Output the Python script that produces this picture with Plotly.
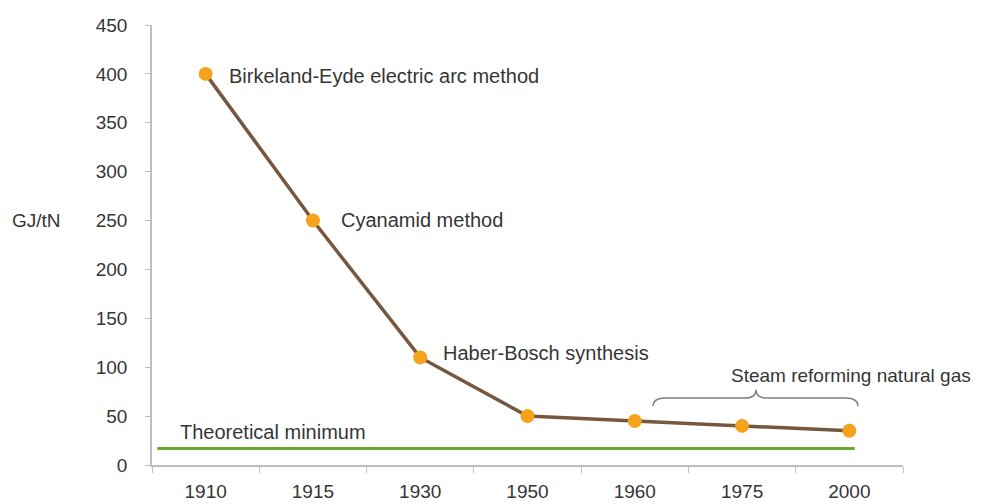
import plotly.graph_objects as go

years = ["1910", "1915", "1930", "1950", "1960", "1975", "2000"]
energy = [400, 250, 110, 50, 45, 40, 35]
theoretical_min = 17
y_ticks = [0, 50, 100, 150, 200, 250, 300, 350, 400, 450]

FONT = "Liberation Sans, Arial, sans-serif"
TXT = "#363636"

fig = go.Figure()
fig.add_trace(go.Scatter(
    x=years, y=energy, mode="lines+markers",
    line=dict(color="#76573f", width=3.5),
    marker=dict(color="#f5a21c", size=14, line=dict(width=0)),
    showlegend=False, hoverinfo="x+y",
))

# theoretical minimum line
fig.add_shape(type="line", xref="x", yref="y", x0=-0.45, x1=6.05,
              y0=theoretical_min, y1=theoretical_min,
              line=dict(color="#6aaa2e", width=3), layer="below")

# brace over steam reforming
bx0, bx1, bm = 4.17, 6.08, 5.13
yb, yf, yp = 60, 68.5, 77
path = (f"M {bx0},{yb} Q {bx0},{yf} {bx0+0.12},{yf} L {bm-0.1},{yf} "
        f"Q {bm},{yf} {bm},{yp} Q {bm},{yf} {bm+0.1},{yf} L {bx1-0.12},{yf} "
        f"Q {bx1},{yf} {bx1},{yb}")
fig.add_shape(type="path", path=path, xref="x", yref="y",
              line=dict(color="#7f7f7f", width=1.5))

def note(x, y, text, xanchor="left", xshift=0, size=20):
    fig.add_annotation(x=x, y=y, text=text, showarrow=False, xanchor=xanchor,
                       xshift=xshift, font=dict(family=FONT, size=size, color=TXT))

note(0, 398, "Birkeland-Eyde electric arc method", xshift=21)
note(1, 250.6, "Cyanamid method", xshift=26)
note(2, 114.5, "Haber-Bosch synthesis", xshift=21)
note(-0.5, 33.7, "Theoretical minimum", xshift=26)
note(5.13, 92, "Steam reforming natural gas", xanchor="center", xshift=95,
     size=19)

fig.add_annotation(xref="paper", yref="y", x=0, y=250, text="GJ/tN",
                   showarrow=False, xanchor="right", xshift=-89,
                   font=dict(family=FONT, size=19, color=TXT))

fig.update_xaxes(type="category", range=[-0.5, 6.5], showline=True,
                 linecolor="#bfbfbf", linewidth=1.5, ticks="outside",
                 tickson="boundaries", ticklen=6, tickcolor="#bfbfbf",
                 showgrid=False, zeroline=False, ticklabelstandoff=8,
                 automargin=False,
                 tickfont=dict(family=FONT, size=19, color=TXT))
fig.update_yaxes(range=[0, 450], tickvals=y_ticks, showline=True,
                 linecolor="#bfbfbf", linewidth=1.5, ticks="outside",
                 ticklen=5, tickcolor="#bfbfbf", showgrid=False,
                 zeroline=False, ticklabelstandoff=14, automargin=False,
                 tickfont=dict(family=FONT, size=19, color=TXT))

# page has an 8px body margin, so the figure is offset by 8px
fig.update_layout(width=978, height=496, plot_bgcolor="white",
                  paper_bgcolor="white",
                  margin=dict(l=144, r=83, t=17, b=39))

fig.write_html("out.html")
